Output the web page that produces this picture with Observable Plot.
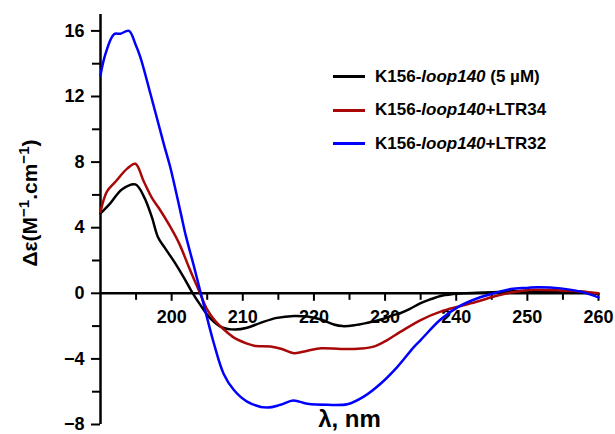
<!DOCTYPE html>
<html>
<head>
<meta charset="utf-8">
<script src="https://cdn.jsdelivr.net/npm/d3@7"></script>
<script src="https://cdn.jsdelivr.net/npm/@observablehq/plot@0.6"></script>
<style>
  html, body { margin: 0; padding: 0; background: #fff; }
  #wrap { position: relative; width: 615px; height: 434px; font-family: "Liberation Sans", Arial, sans-serif; font-weight: bold; color: #000; }
  #legend { position: absolute; left: 333px; top: 60px; font-size: 17px; }
  .row { display: flex; align-items: center; height: 33.5px; white-space: nowrap; }
  .swatch { width: 32px; height: 3px; margin-right: 10px; }
  #ylabel { position: absolute; left: 30px; top: 203px; transform: translate(-50%, -50%) rotate(-90deg); font-size: 21px; white-space: nowrap; }
  #ylabel sup { font-size: 0.72em; vertical-align: 0.5em; line-height: 0; }
</style>
</head>
<body>
<div id="wrap"></div>
<script>
// Wavelength (nm) and Δε values per series
const wlBlack = [190, 191.4, 193, 194.9, 196.1, 197.2, 198.1, 199, 200.4, 201.8, 202.7, 204.1, 205.5, 207.1, 208.9, 210.6, 212.5, 214.8, 217.2, 219.1, 221, 222.8, 224, 225.7, 227.5, 229.4, 231, 232.2, 233.5, 235, 236.5, 237.8, 239.5, 241, 244, 247, 250, 253, 256, 258, 260];
const cdBlack = [4.87, 5.5, 6.33, 6.64, 5.9, 4.67, 3.4, 2.8, 1.9, 0.9, 0.2, -0.75, -1.56, -2.08, -2.21, -2.1, -1.8, -1.5, -1.38, -1.42, -1.6, -1.9, -2.0, -1.95, -1.8, -1.6, -1.35, -1.2, -0.95, -0.6, -0.35, -0.16, -0.05, 0, 0.05, 0.1, 0.15, 0.15, 0.12, 0.08, -0.05];

const wlRed = [190, 190.9, 192.1, 193.75, 194.9, 196.1, 197.25, 198.2, 199.8, 201.1, 202.4, 203.8, 205, 206.2, 207.3, 208.75, 210.5, 211.6, 213.9, 215.5, 217.2, 219.1, 221, 223.8, 226.6, 228.4, 230.3, 232.2, 235, 237.8, 240.4, 243, 245.3, 247.7, 250.3, 253, 255.5, 258, 260];
const cdRed = [4.97, 6.2, 6.8, 7.6, 7.9, 6.8, 5.8, 5.2, 4.06, 3.0, 1.62, 0.2, -1.0, -1.73, -2.19, -2.7, -3.05, -3.2, -3.25, -3.4, -3.65, -3.5, -3.35, -3.4, -3.37, -3.25, -2.85, -2.34, -1.63, -1.12, -0.8, -0.5, -0.2, 0.05, 0.2, 0.2, 0.16, 0.1, 0.0];

const wlBlue = [190, 190.7, 191.9, 192.8, 194, 194.9, 195.6, 197, 198.9, 199.8, 201.25, 202, 203.1, 204.1, 205.3, 205.9, 207.3, 208.75, 210.6, 213.4, 215.3, 217.1, 219.1, 221.9, 224.7, 227, 229.4, 231.7, 234.1, 235, 237.8, 240.4, 243, 245.3, 247.7, 250, 251.4, 254.7, 257.5, 260];
const cdBlue = [13.3, 14.6, 15.8, 15.83, 16.0, 15.2, 14.4, 12.2, 9.1, 7.7, 4.95, 3.5, 1.7, 0, -2.03, -3.0, -4.9, -5.9, -6.6, -6.97, -6.8, -6.54, -6.74, -6.8, -6.76, -6.3, -5.5, -4.5, -3.25, -2.85, -1.6, -0.8, -0.3, 0, 0.26, 0.33, 0.37, 0.3, 0.1, -0.25];

const seriesNames = ["K156-loop140 (5 µM)", "K156-loop140+LTR34", "K156-loop140+LTR32"];
const seriesColors = ["#000000", "#a80808", "#0000ff"];

const xMajor = [200, 210, 220, 230, 240, 250, 260];
const xMinor = [195, 205, 215, 225, 235, 245, 255];
const yMajor = [-8, -4, 0, 4, 8, 12, 16];
const yMinor = [-6, -2, 2, 6, 10, 14];

const xLabel = "λ, nm";

const toRows = (wl, cd) => wl.map((w, i) => ({wl: w, cd: cd[i]}));
const black = toRows(wlBlack, cdBlack);
const red = toRows(wlRed, cdRed);
const blue = toRows(wlBlue, cdBlue);

const font = '"Liberation Sans", Arial, sans-serif';

const chart = Plot.plot({
  width: 615,
  height: 434,
  marginLeft: 100,
  marginRight: 17,
  marginTop: 14,
  marginBottom: 10,
  x: {domain: [190, 260], axis: null},
  y: {domain: [-8, 17], label: null},
  style: {fontFamily: font, fontWeight: "bold", fontSize: "18px", color: "#000", background: "#fff", overflow: "visible"},
  marks: [
    Plot.ruleY([0], {stroke: "#000", strokeWidth: 2.5}),
    Plot.ruleX([190], {stroke: "#000", strokeWidth: 2.5}),
    Plot.axisY(yMajor, {tickSize: 9, tickPadding: 7, strokeWidth: 2, fontSize: 18, fontWeight: "bold", label: null}),
    Plot.axisY(yMinor, {tickSize: 8, strokeWidth: 2, fill: "none", label: null}),
    Plot.ruleX(xMajor, {x: d => d, y1: 0, y2: 0, insetBottom: -8, stroke: "#000", strokeWidth: 2}),
    Plot.ruleX(xMinor, {x: d => d, y1: 0, y2: 0, insetBottom: -7, stroke: "#000", strokeWidth: 2}),
    Plot.text(xMajor, {x: d => d, y: 0, text: d => String(d), lineAnchor: "top", dy: 17, fontSize: 18, fontWeight: "bold"}),
    Plot.text([xLabel], {frameAnchor: "bottom", lineAnchor: "bottom", dy: 2, fontSize: 24, fontWeight: "bold"}),
    Plot.line(black, {x: "wl", y: "cd", stroke: seriesColors[0], strokeWidth: 2.5, curve: "catmull-rom"}),
    Plot.line(red, {x: "wl", y: "cd", stroke: seriesColors[1], strokeWidth: 2.5, curve: "catmull-rom"}),
    Plot.line(blue, {x: "wl", y: "cd", stroke: seriesColors[2], strokeWidth: 2.5, curve: "catmull-rom"})
  ]
});

const wrap = document.getElementById("wrap");
wrap.appendChild(chart);

// y-axis label
const yl = document.createElement("div");
yl.id = "ylabel";
yl.innerHTML = "Δε(M<sup>−1</sup>.cm<sup>−1</sup>)";
wrap.appendChild(yl);

// legend
const legend = document.createElement("div");
legend.id = "legend";
const legendHTML = [
  "K156-<i>loop140</i> (5 µM)",
  "K156-<i>loop140</i>+LTR34",
  "K156-<i>loop140</i>+LTR32"
];
seriesNames.forEach((name, i) => {
  const row = document.createElement("div");
  row.className = "row";
  row.innerHTML = `<span class="swatch" style="background:${seriesColors[i]}"></span><span>${legendHTML[i]}</span>`;
  row.title = name;
  legend.appendChild(row);
});
wrap.appendChild(legend);
</script>
</body>
</html>
